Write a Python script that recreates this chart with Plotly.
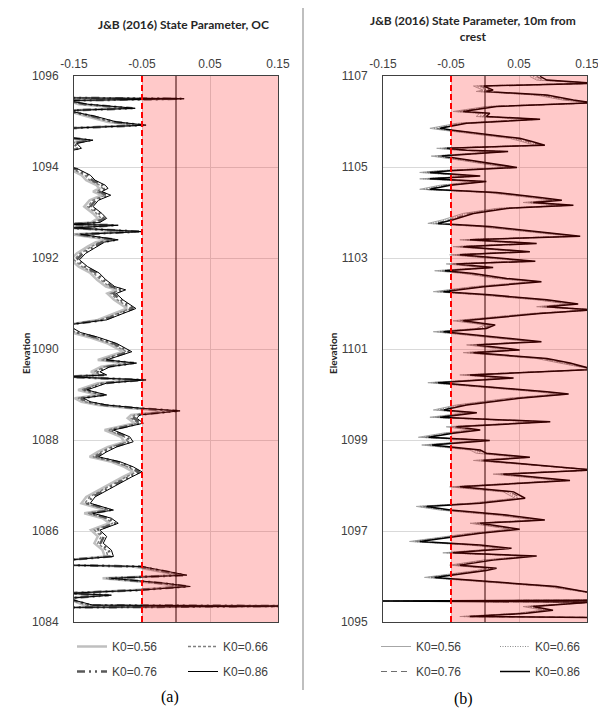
import plotly.graph_objects as go

# ---------------- DATA ----------------
K0_LABELS = ["K0=0.56", "K0=0.66", "K0=0.76", "K0=0.86"]
X_TICKS = [-0.15, -0.05, 0.05, 0.15]
X_TICK_TEXT = ["-0.15", "-0.05", "0.05", "0.15"]
LIMIT_PSI = -0.05

# Panel (a): OC
ELEV_A = [1095.52, 1095.50, 1095.46, 1095.38, 1095.29, 1095.24, 1095.12, 1094.99, 1094.92, 1094.85,
          1094.65, 1094.59, 1094.52, 1094.41, 1094.34, 1094.00, 1093.97, 1093.82, 1093.71, 1093.60,
          1093.53, 1093.46, 1093.38, 1093.27, 1093.13, 1092.98, 1092.87, 1092.78, 1092.74, 1092.72,
          1092.66, 1092.58, 1092.52, 1092.40, 1092.35, 1092.25, 1092.10, 1091.96, 1091.81, 1091.67,
          1091.52, 1091.37, 1091.30, 1091.22, 1091.08, 1090.89, 1090.78, 1090.64, 1090.53, 1090.36,
          1090.26, 1090.12, 1089.94, 1089.83, 1089.76, 1089.69, 1089.61, 1089.50, 1089.43, 1089.39,
          1089.32, 1089.25, 1089.10, 1088.99, 1088.92, 1088.84, 1088.77, 1088.70, 1088.64, 1088.55,
          1088.48, 1088.37, 1088.29, 1088.22, 1088.07, 1087.96, 1087.85, 1087.74, 1087.63, 1087.52,
          1087.41, 1087.30, 1087.19, 1087.05, 1086.90, 1086.75, 1086.61, 1086.46, 1086.39, 1086.28,
          1086.17, 1086.02, 1085.88, 1085.73, 1085.58, 1085.44, 1085.36, 1085.25, 1085.22, 1085.11,
          1085.03, 1084.96, 1084.85, 1084.78, 1084.70, 1084.63, 1084.59, 1084.52, 1084.37, 1084.35,
          1084.32]

PSI_A_056 = [-0.16, -0.001, -0.16, -0.143, -0.073, -0.16, -0.133, -0.100, -0.057, -0.16,
             -0.16, -0.135, -0.159, -0.152, -0.16, -0.16, -0.159, -0.139, -0.132, -0.117,
             -0.113, -0.122, -0.109, -0.127, -0.135, -0.122, -0.115, -0.125, -0.16, -0.098,
             -0.16, -0.063, -0.153, -0.098, -0.118, -0.130, -0.146, -0.155, -0.143, -0.126,
             -0.116, -0.103, -0.087, -0.101, -0.091, -0.072, -0.091, -0.115, -0.16, -0.153,
             -0.128, -0.100, -0.078, -0.100, -0.115, -0.071, -0.110, -0.125, -0.115, -0.16,
             -0.057, -0.115, -0.144, -0.115, -0.149, -0.139, -0.115, -0.066, -0.007, -0.066,
             -0.071, -0.061, -0.086, -0.105, -0.081, -0.076, -0.100, -0.115, -0.127, -0.095,
             -0.076, -0.063, -0.078, -0.095, -0.115, -0.132, -0.139, -0.105, -0.135, -0.108,
             -0.098, -0.125, -0.115, -0.120, -0.108, -0.105, -0.16, -0.16, -0.063, -0.027,
             0.003, -0.108, -0.027, 0.008, -0.066, -0.16, -0.108, -0.16, -0.135, 0.16,
             -0.16]
PSI_A_066 = [-0.16, 0.004, -0.16, -0.138, -0.068, -0.16, -0.128, -0.095, -0.052, -0.16,
             -0.16, -0.130, -0.154, -0.147, -0.16, -0.16, -0.154, -0.134, -0.127, -0.112,
             -0.108, -0.117, -0.104, -0.122, -0.130, -0.117, -0.110, -0.120, -0.16, -0.093,
             -0.158, -0.058, -0.148, -0.093, -0.113, -0.125, -0.141, -0.150, -0.138, -0.121,
             -0.111, -0.098, -0.082, -0.096, -0.086, -0.067, -0.086, -0.110, -0.16, -0.148,
             -0.123, -0.095, -0.073, -0.095, -0.110, -0.066, -0.105, -0.120, -0.110, -0.16,
             -0.052, -0.110, -0.139, -0.110, -0.144, -0.134, -0.110, -0.061, -0.002, -0.061,
             -0.066, -0.056, -0.081, -0.100, -0.076, -0.071, -0.095, -0.110, -0.122, -0.090,
             -0.071, -0.058, -0.073, -0.090, -0.110, -0.127, -0.134, -0.100, -0.130, -0.103,
             -0.093, -0.120, -0.110, -0.115, -0.103, -0.100, -0.16, -0.16, -0.058, -0.022,
             0.008, -0.103, -0.022, 0.013, -0.061, -0.16, -0.103, -0.16, -0.130, 0.16,
             -0.16]
PSI_A_076 = [-0.16, 0.008, -0.16, -0.134, -0.064, -0.16, -0.124, -0.091, -0.048, -0.16,
             -0.16, -0.126, -0.150, -0.143, -0.16, -0.16, -0.150, -0.130, -0.123, -0.108,
             -0.104, -0.113, -0.100, -0.118, -0.126, -0.113, -0.106, -0.116, -0.16, -0.089,
             -0.154, -0.054, -0.144, -0.089, -0.109, -0.121, -0.137, -0.146, -0.134, -0.117,
             -0.107, -0.094, -0.078, -0.092, -0.082, -0.063, -0.082, -0.106, -0.16, -0.144,
             -0.119, -0.091, -0.069, -0.091, -0.106, -0.062, -0.101, -0.116, -0.106, -0.16,
             -0.048, -0.106, -0.135, -0.106, -0.140, -0.130, -0.106, -0.057, 0.002, -0.057,
             -0.062, -0.052, -0.077, -0.096, -0.072, -0.067, -0.091, -0.106, -0.118, -0.086,
             -0.067, -0.054, -0.069, -0.086, -0.106, -0.123, -0.130, -0.096, -0.126, -0.099,
             -0.089, -0.116, -0.106, -0.111, -0.099, -0.096, -0.16, -0.16, -0.054, -0.018,
             0.012, -0.099, -0.018, 0.017, -0.057, -0.16, -0.099, -0.16, -0.126, 0.16,
             -0.16]
PSI_A_086 = [-0.16, 0.012, -0.16, -0.13, -0.060, -0.16, -0.12, -0.087, -0.044, -0.16,
             -0.16, -0.122, -0.146, -0.139, -0.16, -0.16, -0.146, -0.126, -0.119, -0.104,
             -0.100, -0.109, -0.096, -0.114, -0.122, -0.109, -0.102, -0.112, -0.16, -0.085,
             -0.150, -0.050, -0.140, -0.085, -0.105, -0.117, -0.133, -0.142, -0.130, -0.113,
             -0.103, -0.090, -0.074, -0.088, -0.078, -0.059, -0.078, -0.102, -0.16, -0.140,
             -0.115, -0.087, -0.065, -0.087, -0.102, -0.058, -0.097, -0.112, -0.102, -0.16,
             -0.044, -0.102, -0.131, -0.102, -0.136, -0.126, -0.102, -0.053, 0.006, -0.053,
             -0.058, -0.048, -0.073, -0.092, -0.068, -0.063, -0.087, -0.102, -0.114, -0.082,
             -0.063, -0.050, -0.065, -0.082, -0.102, -0.119, -0.126, -0.092, -0.122, -0.095,
             -0.085, -0.112, -0.102, -0.107, -0.095, -0.092, -0.16, -0.16, -0.050, -0.014,
             0.016, -0.095, -0.014, 0.021, -0.053, -0.16, -0.095, -0.16, -0.122, 0.16,
             -0.16]

# Panel (b): 10 m from crest
ELEV_B = [1106.99, 1106.91, 1106.84, 1106.78, 1106.69, 1106.66, 1106.58, 1106.47, 1106.41, 1106.33,
          1106.22, 1106.18, 1106.11, 1106.05, 1105.96, 1105.85, 1105.81, 1105.74, 1105.63, 1105.56,
          1105.48, 1105.41, 1105.37, 1105.34, 1105.24, 1105.15, 1105.04, 1104.99, 1104.92, 1104.88,
          1104.80, 1104.74, 1104.68, 1104.60, 1104.51, 1104.44, 1104.33, 1104.27, 1104.22, 1104.16,
          1104.09, 1103.98, 1103.84, 1103.76, 1103.69, 1103.58, 1103.48, 1103.40, 1103.32, 1103.25,
          1103.14, 1103.07, 1102.93, 1102.87, 1102.79, 1102.72, 1102.66, 1102.55, 1102.48, 1102.37,
          1102.26, 1102.19, 1102.08, 1101.99, 1101.93, 1101.86, 1101.78, 1101.71, 1101.62, 1101.53,
          1101.45, 1101.38, 1101.31, 1101.16, 1101.09, 1100.98, 1100.92, 1100.79, 1100.69, 1100.55,
          1100.43, 1100.36, 1100.26, 1100.17, 1100.06, 1100.01, 1099.92, 1099.77, 1099.66, 1099.60,
          1099.50, 1099.40, 1099.29, 1099.22, 1099.15, 1099.06, 1098.99, 1098.89, 1098.78, 1098.71,
          1098.62, 1098.55, 1098.45, 1098.34, 1098.25, 1098.16, 1098.11, 1097.97, 1097.86, 1097.72,
          1097.61, 1097.54, 1097.46, 1097.35, 1097.24, 1097.17, 1097.04, 1096.95, 1096.77, 1096.69,
          1096.62, 1096.52, 1096.45, 1096.36, 1096.25, 1096.18, 1096.13, 1095.98, 1095.89, 1095.78,
          1095.63, 1095.48, 1095.46, 1095.44, 1095.34, 1095.26, 1095.19, 1095.12, 1095.10]

PSI_B_056 = [0.066, 0.076, 0.16, -0.017, -0.003, -0.013, 0.076, 0.115, 0.16, 0.002,
             -0.047, -0.008, -0.013, 0.066, -0.042, -0.081, -0.062, -0.022, 0.036, 0.054,
             0.073, -0.071, -0.042, 0.019, -0.079, -0.037, 0.007, 0.032, -0.066, -0.096,
             -0.022, -0.096, -0.013, -0.066, -0.096, 0.002, 0.066, 0.098, 0.056, 0.115,
             0.017, -0.032, -0.062, -0.084, -0.008, 0.066, 0.125, -0.037, 0.061, -0.047,
             0.051, -0.052, 0.059, -0.057, -0.003, -0.074, -0.032, 0.017, 0.068, -0.017,
             -0.076, -0.008, 0.076, 0.122, 0.076, 0.16, 0.066, 0.017, -0.047, 0.000,
             -0.013, -0.076, -0.032, 0.068, -0.027, 0.036, -0.032, 0.076, 0.110, 0.16,
             -0.037, 0.027, -0.084, -0.008, 0.076, 0.108, 0.036, -0.042, -0.076, -0.027,
             -0.081, 0.081, -0.057, -0.022, -0.062, -0.098, -0.008, -0.093, -0.022, -0.013,
             0.051, -0.017, 0.066, 0.16, 0.012, 0.076, 0.110, -0.052, 0.027, 0.044,
             -0.022, -0.101, -0.066, 0.017, 0.073, -0.022, 0.036, -0.022, -0.111, -0.022,
             0.024, -0.062, 0.061, -0.003, -0.052, 0.002, -0.013, -0.089, -0.008, 0.090,
             0.16, 0.16, -0.16, 0.16, 0.056, 0.085, 0.046, -0.037, 0.16]
PSI_B_066 = [0.071, 0.081, 0.16, -0.012, 0.002, -0.008, 0.081, 0.120, 0.16, 0.007,
             -0.042, -0.003, -0.008, 0.071, -0.037, -0.076, -0.057, -0.017, 0.041, 0.059,
             0.078, -0.066, -0.037, 0.024, -0.074, -0.032, 0.012, 0.037, -0.061, -0.091,
             -0.017, -0.091, -0.008, -0.061, -0.091, 0.007, 0.071, 0.103, 0.061, 0.120,
             0.022, -0.027, -0.057, -0.079, -0.003, 0.071, 0.130, -0.032, 0.066, -0.042,
             0.056, -0.047, 0.064, -0.052, 0.002, -0.069, -0.027, 0.022, 0.073, -0.012,
             -0.071, -0.003, 0.081, 0.127, 0.081, 0.16, 0.071, 0.022, -0.042, 0.005,
             -0.008, -0.071, -0.027, 0.073, -0.022, 0.041, -0.027, 0.081, 0.115, 0.16,
             -0.032, 0.032, -0.079, -0.003, 0.081, 0.113, 0.041, -0.037, -0.071, -0.022,
             -0.076, 0.086, -0.052, -0.017, -0.057, -0.093, -0.003, -0.088, -0.017, -0.008,
             0.056, -0.012, 0.071, 0.16, 0.017, 0.081, 0.115, -0.047, 0.032, 0.049,
             -0.017, -0.096, -0.061, 0.022, 0.078, -0.017, 0.041, -0.017, -0.106, -0.017,
             0.029, -0.057, 0.066, 0.002, -0.047, 0.007, -0.008, -0.084, -0.003, 0.095,
             0.16, 0.16, -0.16, 0.16, 0.061, 0.090, 0.051, -0.032, 0.16]
PSI_B_076 = [0.076, 0.086, 0.16, -0.007, 0.007, -0.003, 0.086, 0.125, 0.16, 0.012,
             -0.037, 0.002, -0.003, 0.076, -0.032, -0.071, -0.052, -0.012, 0.046, 0.064,
             0.083, -0.061, -0.032, 0.029, -0.069, -0.027, 0.017, 0.042, -0.056, -0.086,
             -0.012, -0.086, -0.003, -0.056, -0.086, 0.012, 0.076, 0.108, 0.066, 0.125,
             0.027, -0.022, -0.052, -0.074, 0.002, 0.076, 0.135, -0.027, 0.071, -0.037,
             0.061, -0.042, 0.069, -0.047, 0.007, -0.064, -0.022, 0.027, 0.078, -0.007,
             -0.066, 0.002, 0.086, 0.132, 0.086, 0.16, 0.076, 0.027, -0.037, 0.010,
             -0.003, -0.066, -0.022, 0.078, -0.017, 0.046, -0.022, 0.086, 0.120, 0.16,
             -0.027, 0.037, -0.074, 0.002, 0.086, 0.118, 0.046, -0.032, -0.066, -0.017,
             -0.071, 0.091, -0.047, -0.012, -0.052, -0.088, 0.002, -0.083, -0.012, -0.003,
             0.061, -0.007, 0.076, 0.16, 0.022, 0.086, 0.120, -0.042, 0.037, 0.054,
             -0.012, -0.091, -0.056, 0.027, 0.083, -0.012, 0.046, -0.012, -0.101, -0.012,
             0.034, -0.052, 0.071, 0.007, -0.042, 0.012, -0.003, -0.079, 0.002, 0.100,
             0.16, 0.16, -0.16, 0.16, 0.066, 0.095, 0.056, -0.027, 0.16]
PSI_B_086 = [0.081, 0.091, 0.16, -0.002, 0.012, 0.002, 0.091, 0.130, 0.16, 0.017,
             -0.032, 0.007, 0.002, 0.081, -0.027, -0.066, -0.047, -0.007, 0.051, 0.069,
             0.088, -0.056, -0.027, 0.034, -0.064, -0.022, 0.022, 0.047, -0.051, -0.081,
             -0.007, -0.081, 0.002, -0.051, -0.081, 0.017, 0.081, 0.113, 0.071, 0.130,
             0.032, -0.017, -0.047, -0.069, 0.007, 0.081, 0.140, -0.022, 0.076, -0.032,
             0.066, -0.037, 0.074, -0.042, 0.012, -0.059, -0.017, 0.032, 0.083, -0.002,
             -0.061, 0.007, 0.091, 0.137, 0.091, 0.16, 0.081, 0.032, -0.032, 0.015,
             0.002, -0.061, -0.017, 0.083, -0.012, 0.051, -0.017, 0.091, 0.125, 0.16,
             -0.022, 0.042, -0.069, 0.007, 0.091, 0.123, 0.051, -0.027, -0.061, -0.012,
             -0.066, 0.096, -0.042, -0.007, -0.047, -0.083, 0.007, -0.078, -0.007, 0.002,
             0.066, -0.002, 0.081, 0.16, 0.027, 0.091, 0.125, -0.037, 0.042, 0.059,
             -0.007, -0.086, -0.051, 0.032, 0.088, -0.007, 0.051, -0.007, -0.096, -0.007,
             0.039, -0.047, 0.076, 0.012, -0.037, 0.017, 0.002, -0.074, 0.007, 0.105,
             0.16, 0.16, -0.16, 0.16, 0.071, 0.100, 0.061, -0.022, 0.16]

# ---------------- FIGURE ----------------
# The page body adds an 8 px margin, so the figure is 8 px smaller and all
# positions below are given in window pixels and shifted by that offset.
OFF = 8
W, H = 606 - OFF, 710 - OFF
def px(x):
    return (x - OFF) / W
def py(y):
    return 1 - (y - OFF) / H

STYLE_A = [dict(color="#BFBFBF", width=2.5),
           dict(color="#7F7F7F", width=1.5, dash="3px,2px"),
           dict(color="#595959", width=2.5, dash="8px,4px,2px,4px,2px,4px"),
           dict(color="#000000", width=1)]
STYLE_B = [dict(color="#A6A6A6", width=1),
           dict(color="#8C8C8C", width=1.2, dash="1px,1.5px"),
           dict(color="#6E6E6E", width=1.2, dash="6px,4px"),
           dict(color="#000000", width=1.5)]

LEGEND_OF = ["legend", "legend2", "legend", "legend2"]  # panel a columns
LEGEND_OF_B = ["legend3", "legend4", "legend3", "legend4"]

fig = go.Figure()
for i, psi in enumerate([PSI_A_056, PSI_A_066, PSI_A_076, PSI_A_086]):
    fig.add_trace(go.Scatter(x=psi, y=ELEV_A, mode="lines", name=K0_LABELS[i],
                             line=STYLE_A[i], xaxis="x", yaxis="y",
                             legend=LEGEND_OF[i], legendgroup="a%d" % i,
                             legendrank=[1, 1, 2, 2][i], hoverinfo="skip"))
for i, psi in enumerate([PSI_B_056, PSI_B_066, PSI_B_076, PSI_B_086]):
    fig.add_trace(go.Scatter(x=psi, y=ELEV_B, mode="lines", name=K0_LABELS[i],
                             line=STYLE_B[i], xaxis="x2", yaxis="y2",
                             legend=LEGEND_OF_B[i], legendgroup="b%d" % i,
                             legendrank=[1, 1, 2, 2][i], hoverinfo="skip"))

YDOM = [py(622), py(76)]
axis_font = dict(family="Liberation Sans, Arial", size=12, color="#404040")
xcommon = dict(range=[-0.15, 0.15], side="top", tickvals=X_TICKS, ticktext=X_TICK_TEXT,
               showgrid=True, gridcolor="#D9D9D9", gridwidth=1, zeroline=False,
               showline=True, mirror=True, linecolor="#404040", linewidth=1,
               ticks="", tickfont=axis_font, ticklabelstandoff=2, fixedrange=True,
               automargin=False)
ycommon = dict(dtick=2, showgrid=True, gridcolor="#D9D9D9", gridwidth=1, zeroline=False,
               showline=True, mirror=True, linecolor="#404040", linewidth=1,
               ticks="", tickfont=axis_font, ticklabelstandoff=12, fixedrange=True,
               automargin=False)

fig.update_layout(
    width=W, height=H, margin=dict(l=0, r=0, t=0, b=0, autoexpand=False),
    paper_bgcolor="white", plot_bgcolor="white",
    xaxis=dict(domain=[px(74), px(278)], anchor="y", **xcommon),
    yaxis=dict(domain=YDOM, anchor="x", range=[1084, 1096], tick0=1084, **ycommon),
    xaxis2=dict(domain=[px(383), px(587)], anchor="y2", **xcommon),
    yaxis2=dict(domain=YDOM, anchor="x2", range=[1095, 1107], tick0=1095, **ycommon),
    showlegend=True,
)

leg_font = dict(family="Liberation Sans, Arial", size=12, color="#404040")
def leg(xpx):
    return dict(x=px(xpx), y=py(632), xanchor="left", yanchor="top", orientation="v",
                bgcolor="rgba(0,0,0,0)", font=leg_font, tracegroupgap=6,
                itemclick=False, itemdoubleclick=False)
fig.update_layout(legend=leg(72), legend2=leg(183), legend3=leg(376), legend4=leg(495))

shapes = []
for xr, yr in [("x", "y"), ("x2", "y2")]:
    shapes.append(dict(type="line", xref=xr, yref=yr + " domain", x0=0, x1=0, y0=0, y1=1,
                       line=dict(color="#000000", width=1), layer="above"))
    shapes.append(dict(type="rect", xref=xr, yref=yr + " domain", x0=LIMIT_PSI, x1=0.15,
                       y0=0, y1=1, fillcolor="rgba(255,0,0,0.21)", line=dict(width=0),
                       layer="above"))
    shapes.append(dict(type="line", xref=xr, yref=yr + " domain", x0=LIMIT_PSI, x1=LIMIT_PSI,
                       y0=0, y1=1, line=dict(color="#FF0000", width=2, dash="6px,3px"),
                       layer="above"))
shapes.append(dict(type="line", xref="paper", yref="paper", x0=px(303), x1=px(303),
                   y0=py(690), y1=1, line=dict(color="#BFBFBF", width=2)))
fig.update_layout(shapes=shapes)

title_font = dict(family="Lato, Carlito, sans-serif", size=12, color="#262626")
ann = [
    dict(text="<b>J&B (2016) State Parameter, OC</b>", x=px(183), y=py(25),
         font=title_font),
    dict(text="<b>J&B (2016) State Parameter, 10m from<br>crest</b>", x=px(473), y=py(28.5),
         font=title_font),
    dict(text="<b>Elevation</b>", x=px(26), y=py(353), textangle=-90,
         font=dict(family="Lato, sans-serif", size=10, color="#262626")),
    dict(text="<b>Elevation</b>", x=px(333), y=py(353), textangle=-90,
         font=dict(family="Lato, sans-serif", size=10, color="#262626")),
    dict(text="(a)", x=px(170), y=py(697),
         font=dict(family="Liberation Serif, Times New Roman", size=16, color="#000000")),
    dict(text="(b)", x=px(463), y=py(699),
         font=dict(family="Liberation Serif, Times New Roman", size=16, color="#000000")),
]
for a in ann:
    a.update(xref="paper", yref="paper", showarrow=False, xanchor="center", yanchor="middle")
fig.update_layout(annotations=ann)

fig.write_html("out.html")
